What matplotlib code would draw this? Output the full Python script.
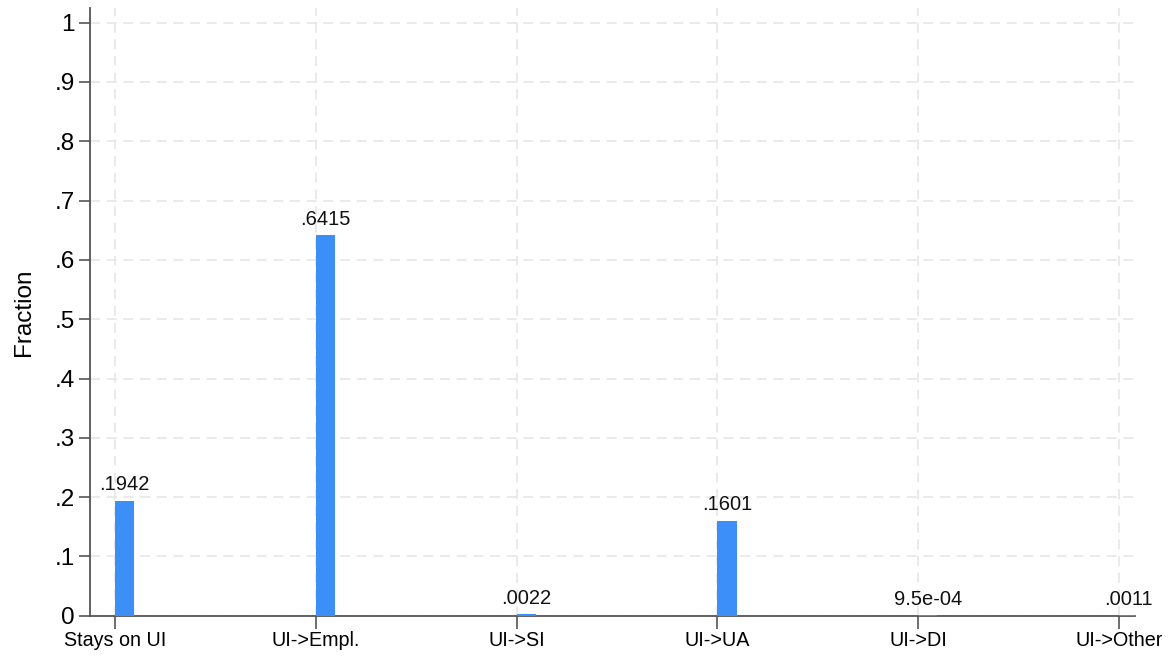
import numpy as np
import matplotlib
matplotlib.use("Agg")
import matplotlib.pyplot as plt

plt.rcParams['font.family'] = ['Liberation Sans', 'DejaVu Sans']

categories = ['Stays on UI', 'UI->Empl.', 'UI->SI', 'UI->UA', 'UI->DI', 'UI->Other']
fractions = [0.1942, 0.6415, 0.0022, 0.1601, 0.00095, 0.0011]
value_labels = ['.1942', '.6415', '.0022', '.1601', '9.5e-04', '.0011']
yticks = [0, 0.1, 0.2, 0.3, 0.4, 0.5, 0.6, 0.7, 0.8, 0.9, 1.0]
ytick_labels = ['0', '.1', '.2', '.3', '.4', '.5', '.6', '.7', '.8', '.9', '1']

bar_color = '#3b8ff7'
axis_color = '#555555'
grid_color = '#e6e6e6'
bar_width = 0.095

fig = plt.figure(figsize=(11.69, 6.56), dpi=100)
ax = fig.add_axes([0.077, 0.0614, 0.894, 0.9266])

x = np.arange(len(categories))
ax.bar(x, fractions, width=bar_width, align='edge', color=bar_color, zorder=3)

for xi, v, lab in zip(x, fractions, value_labels):
    ax.text(xi + bar_width / 2, v + 0.011, lab, ha='center', va='bottom',
            fontsize=14.5, color='#111111', zorder=4)

ax.set_xlim(-0.125, 5.08)
ax.set_ylim(0, 1.025)
ax.set_xticks(x)
ax.set_xticklabels(categories, fontsize=14.2)
ax.set_yticks(yticks)
ax.set_yticklabels(ytick_labels, fontsize=17.5)
ax.set_ylabel('Fraction', fontsize=17.5, labelpad=14)

ax.grid(True, color=grid_color, linestyle=(0, (6, 4)), linewidth=1.2, zorder=0)

for side in ['top', 'right']:
    ax.spines[side].set_visible(False)
for side in ['left', 'bottom']:
    ax.spines[side].set_color(axis_color)
    ax.spines[side].set_linewidth(1.3)

ax.tick_params(axis='y', length=8, width=1.2, color=axis_color, pad=3)
ax.tick_params(axis='x', length=9, width=1.2, color=axis_color, pad=2)

fig.savefig('out.png', dpi=100)
